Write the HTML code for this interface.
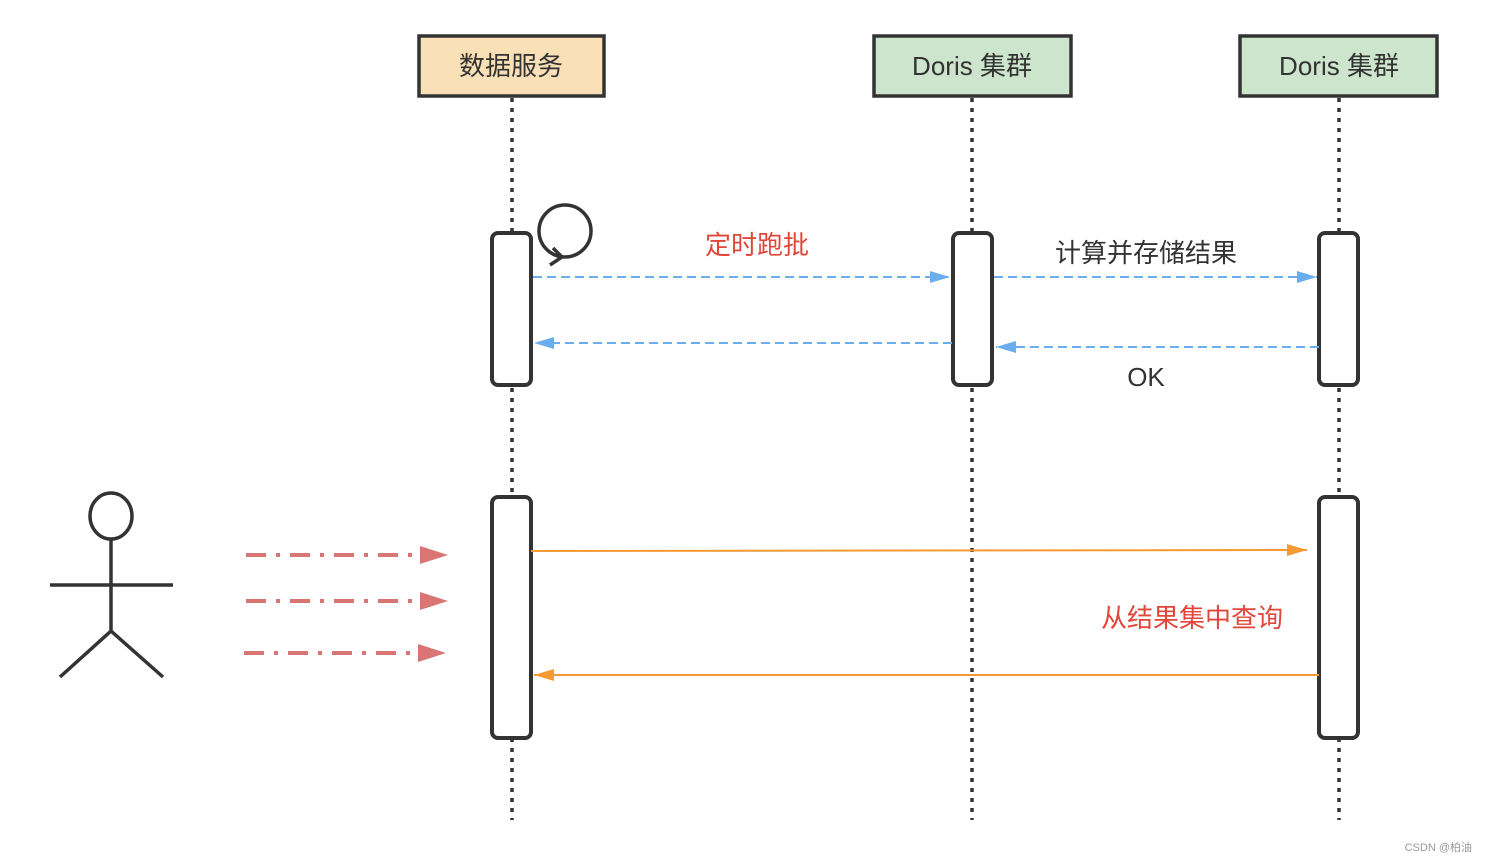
<!DOCTYPE html>
<html><head><meta charset="utf-8"><style>
html,body{margin:0;padding:0;background:#fff;width:1486px;height:862px;overflow:hidden}
text{font-family:"Liberation Sans","Noto Sans CJK SC",sans-serif}
</style></head><body>
<svg width="1486" height="862" viewBox="0 0 1486 862" xmlns="http://www.w3.org/2000/svg">
<defs>
<marker id="ab2" markerWidth="20" markerHeight="12" refX="20" refY="6" orient="auto" markerUnits="userSpaceOnUse" viewBox="0 0 20 12"><path d="M0,0L20,6L0,12z" fill="#6aaef0"/></marker>
<marker id="ao" markerWidth="20" markerHeight="12" refX="20" refY="6" orient="auto" markerUnits="userSpaceOnUse" viewBox="0 0 20 12"><path d="M0,0L20,6L0,12z" fill="#f59a32"/></marker>
</defs>
<g stroke="#333" stroke-width="3.5" stroke-dasharray="4,6">
<line x1="512" y1="98" x2="512" y2="820"/>
<line x1="972" y1="98" x2="972" y2="820"/>
<line x1="1339" y1="98" x2="1339" y2="820"/>
</g>
<rect x="419" y="36" width="185" height="60" fill="#f9e0b7" stroke="#333" stroke-width="3.5"/>
<text x="511" y="75" font-size="26" fill="#333" text-anchor="middle">数据服务</text>
<rect x="874" y="36" width="197" height="60" fill="#cde5cc" stroke="#333" stroke-width="3.5"/>
<text x="972" y="75" font-size="26" fill="#333" text-anchor="middle">Doris 集群</text>
<rect x="1240" y="36" width="197" height="60" fill="#cde5cc" stroke="#333" stroke-width="3.5"/>
<text x="1339" y="75" font-size="26" fill="#333" text-anchor="middle">Doris 集群</text>
<g fill="#fff" stroke="#333" stroke-width="4">
<rect x="492" y="233" width="39" height="152" rx="6"/>
<rect x="953" y="233" width="39" height="152" rx="6"/>
<rect x="1319" y="233" width="39" height="152" rx="6"/>
<rect x="492" y="497" width="39" height="241" rx="6"/>
<rect x="1319" y="497" width="39" height="241" rx="6"/>
</g>
<circle cx="565" cy="231" r="26" fill="none" stroke="#333" stroke-width="3.5"/>
<path d="M553,248 L562,257 L550,265" fill="none" stroke="#333" stroke-width="3.5"/>
<g stroke="#6aaef0" stroke-width="2" stroke-dasharray="9,5" fill="none">
<line x1="533" y1="277" x2="950" y2="277" marker-end="url(#ab2)"/>
<line x1="994" y1="277" x2="1317" y2="277" marker-end="url(#ab2)"/>
<line x1="952" y1="343" x2="534" y2="343" marker-end="url(#ab2)"/>
<line x1="1319" y1="347" x2="996" y2="347" marker-end="url(#ab2)"/>
</g>
<text x="757" y="254" font-size="26" fill="#e0463a" text-anchor="middle">定时跑批</text>
<text x="1146" y="262" font-size="26" fill="#333" text-anchor="middle">计算并存储结果</text>
<text x="1146" y="386" font-size="26" fill="#333" text-anchor="middle">OK</text>
<line x1="531" y1="551" x2="1307" y2="550" stroke="#f59a32" stroke-width="2" marker-end="url(#ao)"/>
<line x1="1319" y1="675" x2="534" y2="675" stroke="#f59a32" stroke-width="2" marker-end="url(#ao)"/>
<text x="1192" y="627" font-size="26" fill="#e0463a" text-anchor="middle">从结果集中查询</text>
<g stroke="#333" stroke-width="3.5" fill="none">
<ellipse cx="111" cy="516" rx="21" ry="23"/>
<line x1="111" y1="539" x2="111" y2="631"/>
<line x1="50" y1="585" x2="173" y2="585"/>
<line x1="111" y1="631" x2="60" y2="677"/>
<line x1="111" y1="631" x2="163" y2="677"/>
</g>
<g stroke="#d97572" stroke-width="4" stroke-dasharray="20,10,4,10">
<line x1="246" y1="555" x2="422" y2="555"/>
<line x1="246" y1="601" x2="422" y2="601"/>
<line x1="244" y1="653" x2="420" y2="653"/>
</g>
<g fill="#d97572">
<path d="M420,546L448,555L420,564z"/>
<path d="M420,592L448,601L420,610z"/>
<path d="M418,644L446,653L418,662z"/>
</g>
<text x="1472" y="851" font-size="11" fill="#999" text-anchor="end">CSDN @柏油</text>
</svg>
</body></html>
